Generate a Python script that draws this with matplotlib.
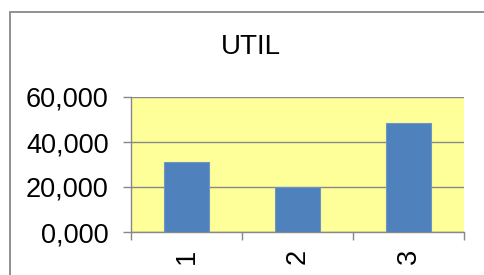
import matplotlib
matplotlib.use("Agg")
import matplotlib.pyplot as plt
from matplotlib.patches import Rectangle
from matplotlib.ticker import FixedLocator, FuncFormatter

categories = ["1", "2", "3"]
values = [31.1, 20.0, 48.6]
y_ticks = [0, 20, 40, 60]

plt.rcParams["font.family"] = ["Liberation Sans", "DejaVu Sans"]

fig = plt.figure(figsize=(4.84, 2.75), dpi=100)
fig.patch.set_facecolor("white")

# chart area border (right and bottom edges fall outside the image)
fig.patches.append(Rectangle((9.5 / 484, -0.2), 1.2, 1.2 - 11.5 / 275,
                             transform=fig.transFigure, fill=False,
                             edgecolor="#888888", linewidth=1.3))

ax = fig.add_axes([131 / 484, 1 - 232 / 275, 333 / 484, 135 / 275])
ax.set_facecolor("#FFFF99")

x = list(range(len(categories)))
ax.bar(x, values, width=0.4, color="#4F81BD", edgecolor="#6F95C8",
       linewidth=0.8, zorder=3)

ax.set_xlim(-0.5, len(categories) - 0.5)
ax.set_ylim(0, 60)
ax.set_yticks(y_ticks)
ax.yaxis.set_major_formatter(
    FuncFormatter(lambda v, p: f"{v:.3f}".replace(".", ",")))
ax.grid(axis="y", color="#888888", linewidth=1.0, zorder=1)

ax.xaxis.set_major_locator(FixedLocator([-0.5, 0.5, 1.5, 2.5]))
ax.xaxis.set_major_formatter(FuncFormatter(lambda v, p: ""))
ax.xaxis.set_minor_locator(FixedLocator(x))
ax.set_xticklabels(categories, minor=True, rotation=90, fontsize=19.5)
ax.tick_params(axis="x", which="minor", length=0, pad=12)
ax.tick_params(axis="x", which="major", length=6, width=1, color="#888888")
ax.tick_params(axis="y", length=6, width=1, color="#888888", labelsize=19.5,
               pad=10)

for s in ["top", "right"]:
    ax.spines[s].set_visible(False)
for s in ["left", "bottom"]:
    ax.spines[s].set_color("#888888")
    ax.spines[s].set_linewidth(1.0)

fig.text(251 / 484, 1 - 47 / 275, "UTIL", ha="center", va="center",
         fontsize=20)

fig.savefig("out.png", dpi=100)
